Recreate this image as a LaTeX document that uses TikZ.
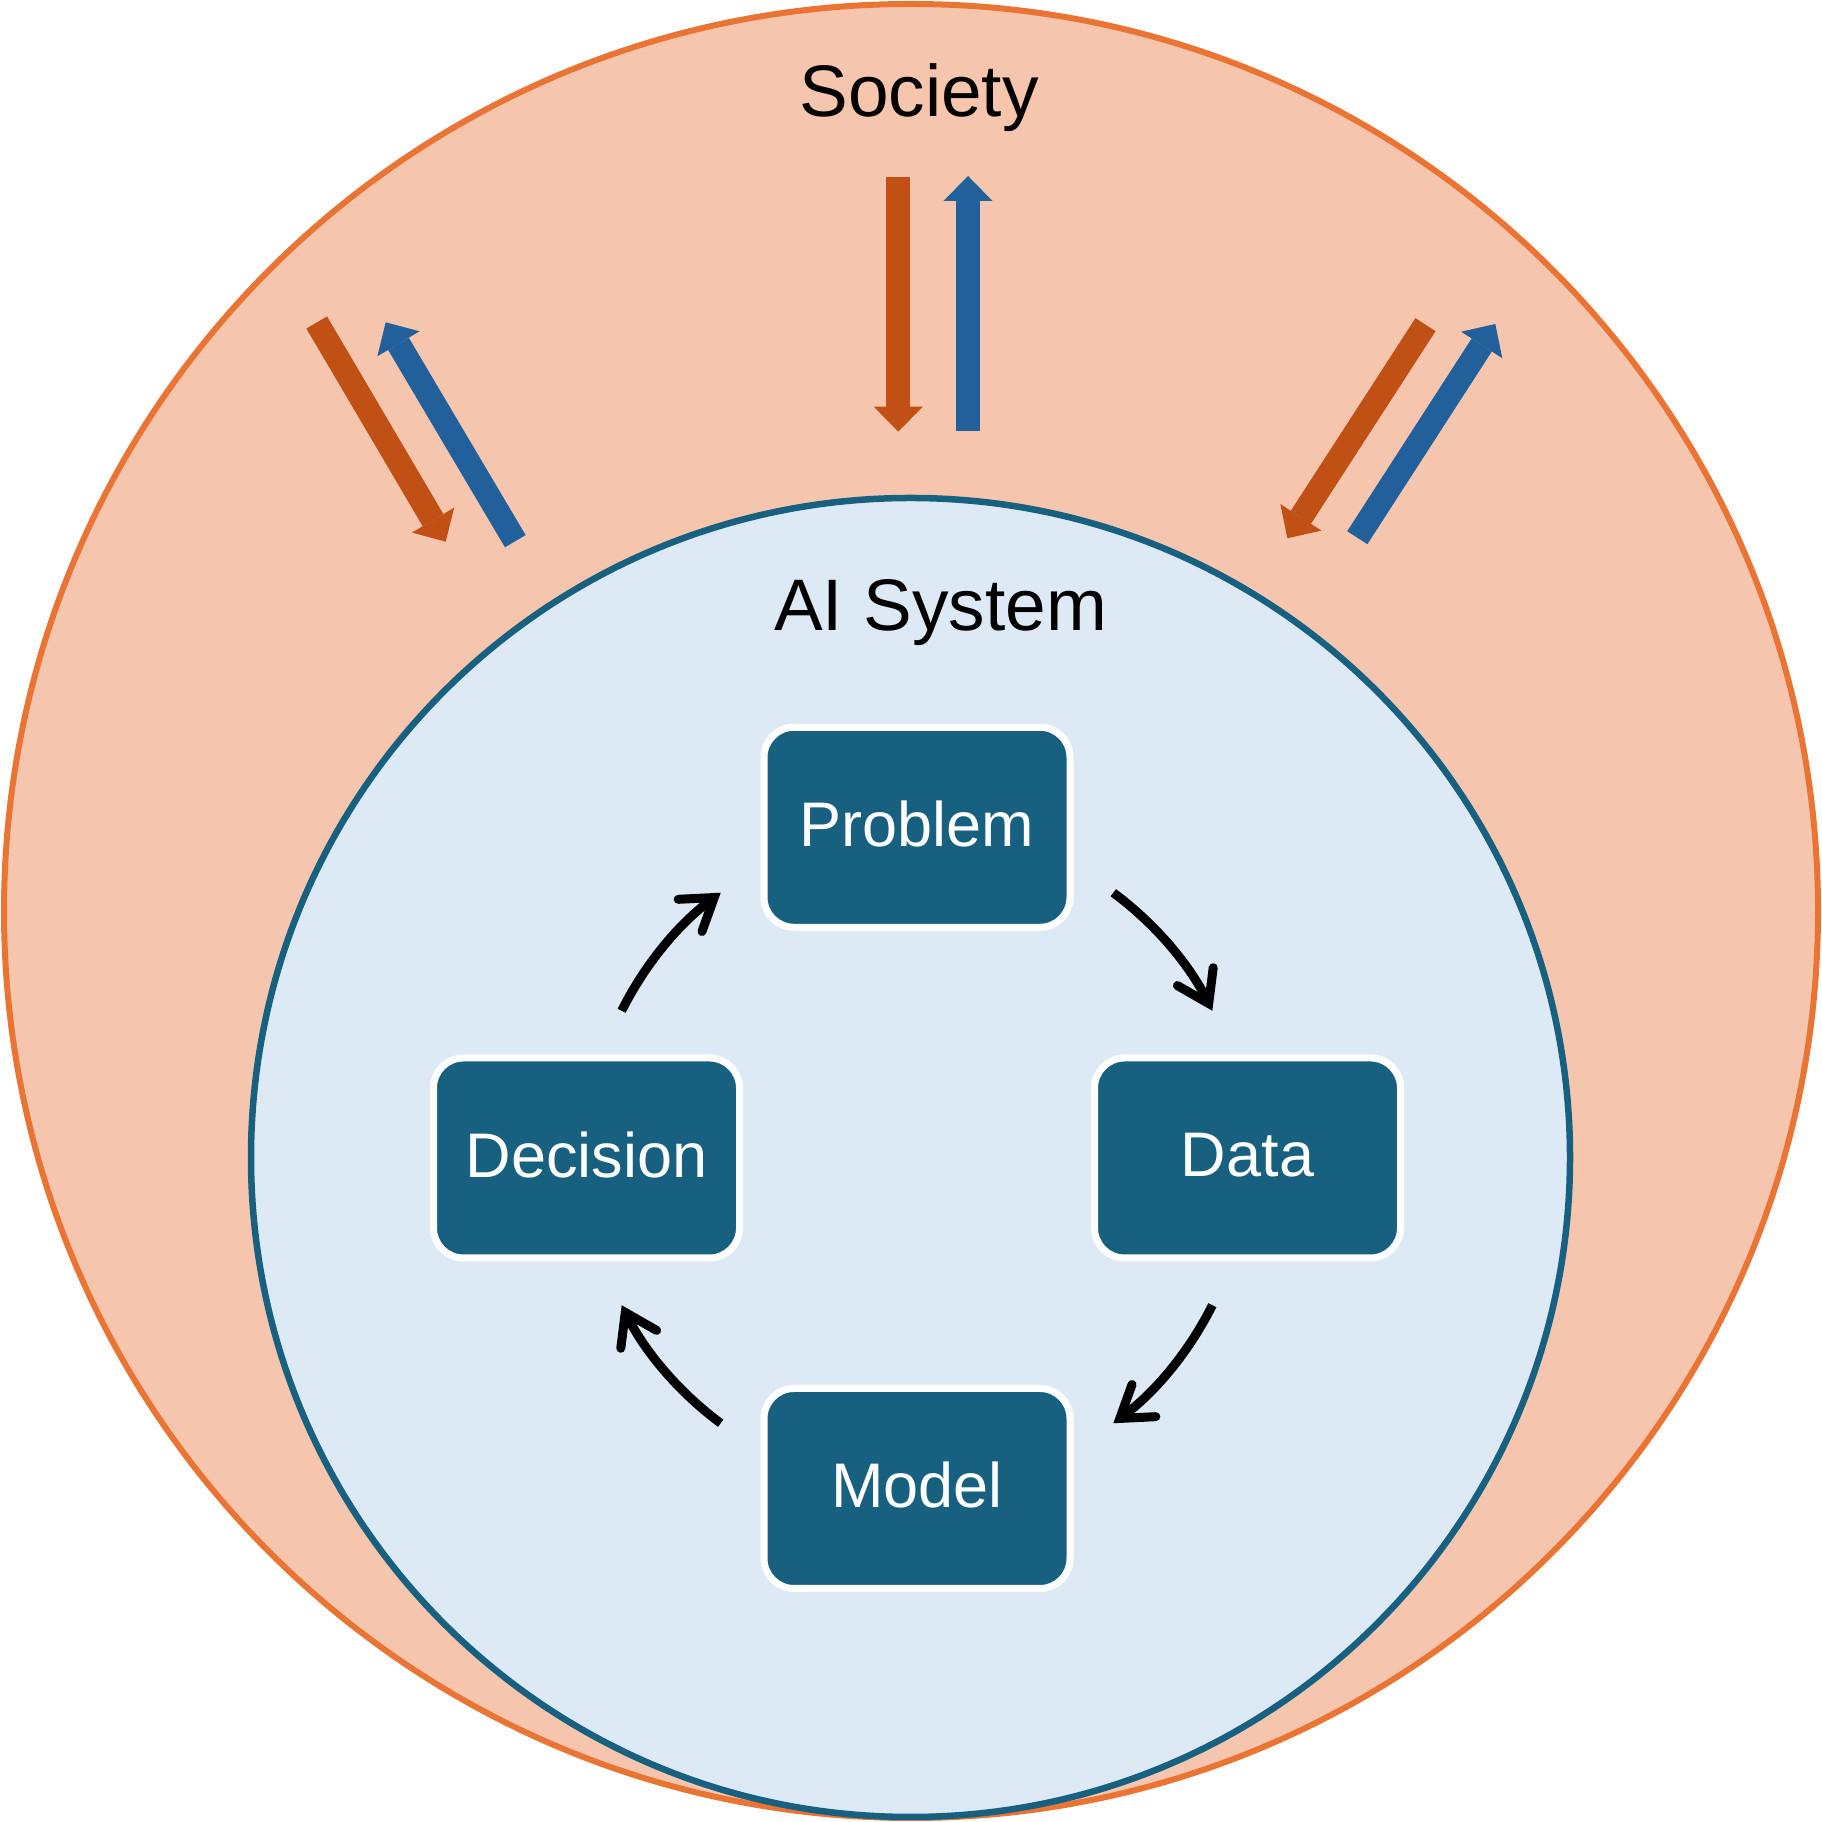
\documentclass[tikz,border=0pt]{standalone}
\usepackage{fontspec}
\setmainfont{Liberation Sans}
\usetikzlibrary{arrows.meta}
\definecolor{socfill}{RGB}{245,198,173}
\definecolor{socline}{RGB}{233,116,52}
\definecolor{aifill}{RGB}{221,234,246}
\definecolor{boxblue}{RGB}{23,96,127}
\definecolor{arrorange}{RGB}{192,80,20}
\definecolor{arrblue}{RGB}{33,96,155}
\begin{document}
\begin{tikzpicture}[x=1pt,y=1pt,
  stage/.style={draw=white, line width=7pt, fill=boxblue, rounded corners=30pt,
    minimum width=306pt, minimum height=200pt, inner sep=0pt, text=white,
    text depth=7pt, font=\fontsize{63}{70}\selectfont},
  cycarrow/.style={line width=9pt, draw=black,
    -{Straight Barb[length=30pt,width=40pt,line cap=round]}},
  fatarrow/.style={line width=24pt, -{Triangle[length=25pt,width=49pt,line width=0pt]}},
  biglabel/.style={font=\fontsize{73}{80}\selectfont, anchor=base, inner sep=0pt},
]
\useasboundingbox (0,0) rectangle (1822,1822);
\node[circle, draw=socline, fill=socfill, line width=6pt, minimum size=1814pt, inner sep=0pt] (society) at (911,911) {};
\node[circle, draw=boxblue, fill=aifill, line width=6.5pt, minimum size=1319pt, inner sep=0pt] (aisys) at (910.5,664.5) {};

\node[biglabel] (soclabel) at (919,1705) {Society};
\node[biglabel] (ailabel) at (940.6,1191) {AI System};

% exchange arrows
\coordinate (ta) at (898.3,1645.3); \coordinate (tb) at (898.3,1390.3);
\coordinate (tc) at (968,1391.3);   \coordinate (td) at (968,1646);
\coordinate (la) at (316.7,1499.5); \coordinate (lb) at (445.7,1280.3);
\coordinate (lc) at (515.3,1280.8); \coordinate (ld) at (385.7,1499.7);
\coordinate (ra) at (1425.5,1497.3); \coordinate (rb) at (1287.3,1283.7);
\coordinate (rc) at (1357.3,1284.3); \coordinate (rd) at (1495.3,1498);
\draw[fatarrow, arrorange] (ta) -- (tb);
\draw[fatarrow, arrblue] (tc) -- (td);
\draw[fatarrow, arrorange] (la) -- (lb);
\draw[fatarrow, arrblue] (lc) -- (ld);
\draw[fatarrow, arrorange] (ra) -- (rb);
\draw[fatarrow, arrblue] (rc) -- (rd);

% cycle boxes
\node[stage] (problem) at (917,994.7) {Problem};
\node[stage] (data) at (1247.5,664) {Data};
\node[stage] (model) at (917,333.5) {Model};
\node[stage] (decision) at (586.5,664) {Decision};

\coordinate (hub) at (917,664);
\draw[cycarrow] ([shift={(153.5:330pt)}]hub) arc[start angle=153.5, end angle=126.5, radius=330pt];
\draw[cycarrow] ([shift={(53.5:330pt)}]hub) arc[start angle=53.5, end angle=26.5, radius=330pt];
\draw[cycarrow] ([shift={(-26.5:330pt)}]hub) arc[start angle=-26.5, end angle=-53.5, radius=330pt];
\draw[cycarrow] ([shift={(-126.5:330pt)}]hub) arc[start angle=-126.5, end angle=-153.5, radius=330pt];
\end{tikzpicture}
\end{document}
